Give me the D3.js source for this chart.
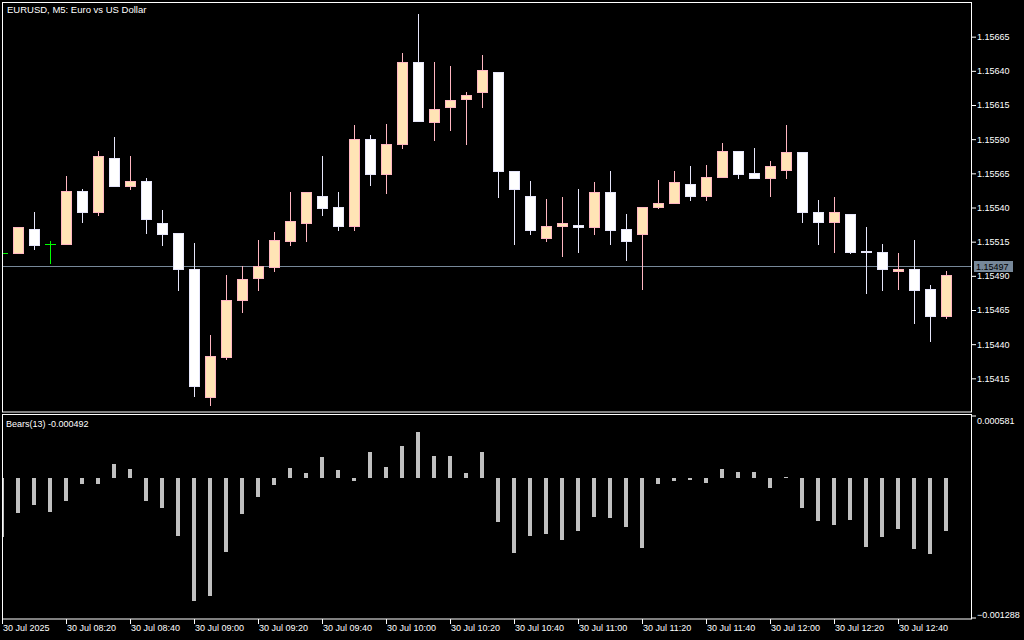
<!DOCTYPE html>
<html>
<head>
<meta charset="utf-8">
<script src="https://cdn.jsdelivr.net/npm/d3@7"></script>
<style>
  html, body { margin: 0; padding: 0; background: #000; }
  svg { display: block; }
  text { font-family: "Liberation Sans", Arial, sans-serif; fill: #fff; }
</style>
</head>
<body>
<svg id="chart" width="1024" height="640"></svg>
<script>
// EURUSD M5, 30 Jul 2025 08:00 .. 12:55 (60 bars)
var open = [1.15506,1.15506,1.15524,1.15513,1.15513,1.15552,1.15536,1.15576,1.15555,1.15559,
  1.15528,1.15521,1.15495,1.15401,1.15430,1.15472,1.15488,1.15496,1.15515,1.15528,
  1.15548,1.15540,1.15526,1.15590,1.15564,1.15586,1.15646,1.15602,1.15613,1.15619,
  1.15624,1.15639,1.15566,1.15548,1.15517,1.15526,1.15527,1.15525,1.15551,1.15524,
  1.15520,1.15540,1.15543,1.15557,1.15548,1.15562,1.15581,1.15565,1.15561,1.15567,
  1.15580,1.15536,1.15529,1.15535,1.15508,1.15507,1.15493,1.15495,1.15480,1.15460]
var high = [1.15510,1.15525,1.15536,1.15515,1.15563,1.15553,1.15581,1.15591,1.15577,1.15561,
  1.15538,1.15521,1.15514,1.15446,1.15490,1.15497,1.15516,1.15522,1.15551,1.15551,
  1.15577,1.15551,1.15600,1.15593,1.15601,1.15653,1.15681,1.15646,1.15643,1.15624,
  1.15651,1.15639,1.15566,1.15559,1.15546,1.15547,1.15553,1.15558,1.15566,1.15535,
  1.15540,1.15560,1.15566,1.15570,1.15571,1.15587,1.15581,1.15583,1.15574,1.15600,
  1.15580,1.15545,1.15547,1.15535,1.15525,1.15513,1.15506,1.15516,1.15483,1.15493]
var low = [1.15500,1.15506,1.15509,1.15499,1.15513,1.15529,1.15534,1.15555,1.15553,1.15521,
  1.15512,1.15479,1.15402,1.15395,1.15429,1.15463,1.15479,1.15493,1.15512,1.15515,
  1.15534,1.15523,1.15523,1.15556,1.15550,1.15583,1.15603,1.15589,1.15596,1.15586,
  1.15613,1.15547,1.15513,1.15520,1.15515,1.15504,1.15507,1.15520,1.15513,1.15501,
  1.15480,1.15539,1.15543,1.15545,1.15545,1.15562,1.15561,1.15561,1.15548,1.15561,
  1.15529,1.15513,1.15507,1.15506,1.15477,1.15479,1.15480,1.15455,1.15442,1.15459]
var close = [1.15506,1.15525,1.15512,1.15513,1.15552,1.15536,1.15577,1.15555,1.15559,1.15531,
  1.15520,1.15495,1.15409,1.15431,1.15472,1.15487,1.15497,1.15516,1.15530,1.15551,
  1.15539,1.15526,1.15590,1.15564,1.15586,1.15646,1.15603,1.15612,1.15618,1.15622,
  1.15640,1.15566,1.15553,1.15523,1.15526,1.15528,1.15525,1.15551,1.15523,1.15515,
  1.15540,1.15543,1.15558,1.15548,1.15562,1.15581,1.15564,1.15561,1.15570,1.15580,
  1.15536,1.15529,1.15536,1.15507,1.15507,1.15495,1.15495,1.15479,1.15460,1.15490]

// Bears Power (13)
var bears = [-0.000543,-0.000321,-0.000247,-0.000312,-0.000210,-0.000052,-0.000052,0.000130,0.000083,-0.000210,
  -0.000275,-0.000534,-0.001136,-0.001090,-0.000688,-0.000330,-0.000173,-0.000062,0.000093,0.000046,
  0.000194,0.000074,-0.000025,0.000240,0.000102,0.000296,0.000426,0.000204,0.000204,0.000046,
  0.000240,-0.000404,-0.000691,-0.000534,-0.000515,-0.000571,-0.000488,-0.000358,-0.000367,-0.000451,
  -0.000645,-0.000052,-0.000025,-0.000015,-0.000043,0.000083,0.000056,0.000056,-0.000090,0.000006,
  -0.000275,-0.000395,-0.000432,-0.000386,-0.000636,-0.000543,-0.000469,-0.000654,-0.000700,-0.000492]

var priceTicks = [1.15415,1.15440,1.15465,1.15490,1.15515,1.15540,1.15565,1.15590,1.15615,1.15640,1.15665]
var bearsTicks = [0.000581,-0.001288]
var timeTickIdx = [0,4,8,12,16,20,24,28,32,36,40,44,48,52,56]
var timeTickLabels = ["30 Jul 2025","30 Jul 08:20","30 Jul 08:40","30 Jul 09:00","30 Jul 09:20",
  "30 Jul 09:40","30 Jul 10:00","30 Jul 10:20","30 Jul 10:40","30 Jul 11:00","30 Jul 11:20",
  "30 Jul 11:40","30 Jul 12:00","30 Jul 12:20","30 Jul 12:40"]
var bid = 1.15497

var svg = d3.select("#chart")

var x = d3.scaleLinear().domain([0, 59]).range([2.5, 946.5])
var y = d3.scaleLinear().domain([1.1539, 1.1569]).range([412, 2])
var yb = d3.scaleLinear().domain([-0.001288, 0.000581]).range([617, 415])

var defs = svg.append("defs")
defs.append("clipPath").attr("id", "clipMain")
  .append("rect").attr("x", 2).attr("y", 2).attr("width", 970).attr("height", 410)
defs.append("clipPath").attr("id", "clipInd")
  .append("rect").attr("x", 2).attr("y", 415).attr("width", 970).attr("height", 204)

var main = svg.append("g").attr("clip-path", "url(#clipMain)")

// bid line
main.append("line")
  .attr("x1", 2).attr("x2", 972)
  .attr("y1", Math.round(y(bid)) + 0.5).attr("y2", Math.round(y(bid)) + 0.5)
  .attr("stroke", "#778899")

var idx = d3.range(open.length)
function kind(i) {
  if (open[i] === close[i]) return "doji"
  return close[i] > open[i] ? "bull" : "bear"
}
var lineCol = { bull: "#ffb6c1", bear: "#e6e6fa", doji: "#00ff00" }
var fillCol = { bull: "#ffe4b5", bear: "#ffffff" }

var candles = main.selectAll("g.candle").data(idx).enter().append("g")

candles.append("line")
  .attr("x1", function(i) { return x(i) }).attr("x2", function(i) { return x(i) })
  .attr("y1", function(i) { return Math.round(y(high[i])) })
  .attr("y2", function(i) { return Math.round(y(low[i])) + 1 })
  .attr("stroke", function(i) { return lineCol[kind(i)] })

candles.filter(function(i) { return kind(i) !== "doji" }).append("rect")
  .attr("x", function(i) { return x(i) - 5 })
  .attr("y", function(i) { return Math.round(y(Math.max(open[i], close[i]))) + 0.5 })
  .attr("width", 10)
  .attr("height", function(i) {
    return Math.max(1, Math.round(y(Math.min(open[i], close[i]))) - Math.round(y(Math.max(open[i], close[i]))))
  })
  .attr("fill", function(i) { return fillCol[kind(i)] })
  .attr("stroke", function(i) { return lineCol[kind(i)] })

candles.filter(function(i) { return kind(i) === "doji" }).append("line")
  .attr("x1", function(i) { return x(i) - 5.5 }).attr("x2", function(i) { return x(i) + 5.5 })
  .attr("y1", function(i) { return Math.round(y(open[i])) + 0.5 })
  .attr("y2", function(i) { return Math.round(y(open[i])) + 0.5 })
  .attr("stroke", "#00ff00")

// price axis
var yAxis = d3.axisRight(y).tickValues(priceTicks).tickFormat(d3.format(".5f"))
  .tickSize(4).tickPadding(1)
var ga = svg.append("g").attr("transform", "translate(972,0.5)").call(yAxis)
ga.select(".domain").remove()
ga.selectAll("line").attr("stroke", "#fff")
ga.selectAll("text").attr("fill", "#fff").style("font-size", "9px")

// bid label
var by = Math.round(y(bid))
svg.append("rect").attr("x", 974).attr("y", by - 5).attr("width", 39).attr("height", 11)
  .attr("fill", "#778899")
svg.append("text").attr("x", 976).attr("y", by + 4).text(d3.format(".5f")(bid))
  .style("font-size", "9px").style("fill", "#000")

// bears histogram
var ind = svg.append("g").attr("clip-path", "url(#clipInd)")
ind.selectAll("rect").data(idx).enter().append("rect")
  .attr("x", function(i) { return x(i) - 2.5 })
  .attr("y", function(i) { return Math.round(yb(Math.max(0, bears[i]))) })
  .attr("width", 4)
  .attr("height", function(i) {
    return Math.max(1, Math.round(Math.abs(yb(bears[i]) - yb(0))))
  })
  .attr("fill", "#c0c0c0")

var bAxis = d3.axisRight(yb).tickValues(bearsTicks).tickFormat(d3.format(".6f"))
  .tickSize(4).tickPadding(1)
var gb = svg.append("g").attr("transform", "translate(972,0.5)").call(bAxis)
gb.select(".domain").remove()
gb.selectAll("line").attr("stroke", "#fff")
gb.selectAll("text").attr("fill", "#fff").style("font-size", "9px")
  .attr("dy", function(d) { return d > 0 ? "0.9em" : "-0.05em" })

// time axis
var xAxis = d3.axisBottom(x).tickValues(timeTickIdx)
  .tickFormat(function(d, k) { return timeTickLabels[k] })
  .tickSize(5).tickPadding(1)
var gx = svg.append("g").attr("transform", "translate(-0.5,619)").call(xAxis)
gx.select(".domain").remove()
gx.selectAll("line").attr("stroke", "#fff")
gx.selectAll("text").attr("fill", "#fff").style("font-size", "9px")
  .attr("text-anchor", "start").attr("x", 0.5).attr("y", 6)

// pane borders, drawn over the marks like the terminal does
svg.append("rect").attr("x", 2.5).attr("y", 2.5).attr("width", 969).attr("height", 409.5)
  .attr("fill", "none").attr("stroke", "#fff")
svg.append("rect").attr("x", 2.5).attr("y", 414.5).attr("width", 969).attr("height", 204.5)
  .attr("fill", "none").attr("stroke", "#fff")

// titles
svg.append("text").attr("x", 7).attr("y", 13).text("EURUSD, M5:  Euro vs US Dollar")
  .style("font-size", "9.5px")
svg.append("text").attr("x", 6).attr("y", 427).text("Bears(13) -0.000492")
  .style("font-size", "9px")
</script>
</body>
</html>
